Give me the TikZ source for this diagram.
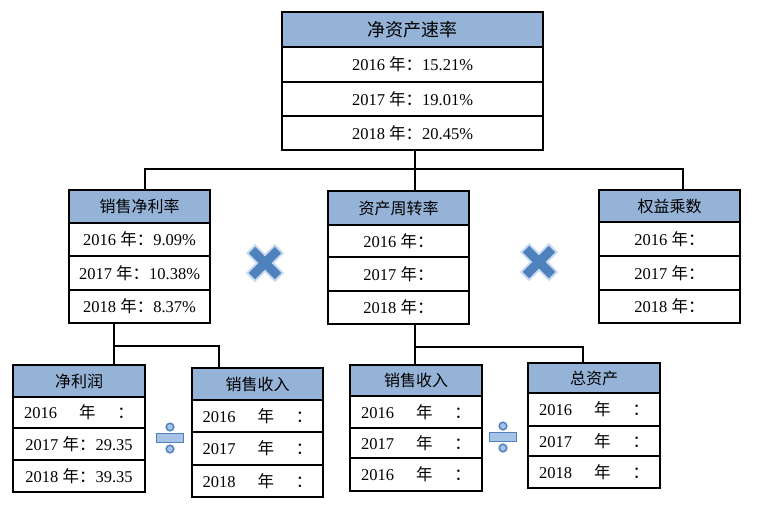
\documentclass[tikz,border=0pt]{standalone}
\usepackage{fontspec}
\setmainfont{Liberation Serif}
\newfontfamily\cjk{Noto Sans CJK SC}
\definecolor{headblue}{RGB}{149,179,215}
\definecolor{signblue}{RGB}{79,129,189}
\definecolor{signpale}{RGB}{198,217,241}
\definecolor{signlight}{RGB}{167,195,230}

\begin{document}
\begin{tikzpicture}[x=1pt,y=-1pt,
  cell/.style={draw=black,line width=1.5pt,inner sep=0pt,font=\fontsize{16.5}{16.5}\selectfont},
  head/.style={cell,fill=headblue,font=\cjk\fontsize{16}{16}\selectfont},
  spread/.style={text width=110pt},
  link/.style={line width=1.5pt}]
\fill[white] (0,0) rectangle (766,507);
\useasboundingbox (0,0) rectangle (766,507);

\node (roe) at (412.5,29.5) [head,minimum width=261,minimum height=35,font=\cjk\fontsize{18}{18}\selectfont] {净资产速率};
\node (roe1) at (412.5,64.5) [cell,minimum width=261,minimum height=35] {2016 {\cjk 年：}15.21\%};
\node (roe2) at (412.5,99) [cell,minimum width=261,minimum height=34] {2017 {\cjk 年：}19.01\%};
\node (roe3) at (412.5,133) [cell,minimum width=261,minimum height=34] {2018 {\cjk 年：}20.45\%};

\node (npm) at (139.5,206.5) [head,minimum width=141,minimum height=33] {销售净利率};
\node (npm1) at (139.5,239.5) [cell,minimum width=141,minimum height=33] {2016 {\cjk 年：}9.09\%};
\node (npm2) at (139.5,273) [cell,minimum width=141,minimum height=34] {2017 {\cjk 年：}10.38\%};
\node (npm3) at (139.5,306.5) [cell,minimum width=141,minimum height=33] {2018 {\cjk 年：}8.37\%};

\node (at) at (398.5,208) [head,minimum width=141,minimum height=34] {资产周转率};
\node (at1) at (398.5,241) [cell,minimum width=141,minimum height=32] {2016 {\cjk 年：}};
\node (at2) at (398.5,274) [cell,minimum width=141,minimum height=34] {2017 {\cjk 年：}};
\node (at3) at (398.5,307.5) [cell,minimum width=141,minimum height=33] {2018 {\cjk 年：}};

\node (em) at (669.5,206) [head,minimum width=141,minimum height=32] {权益乘数};
\node (em1) at (669.5,239) [cell,minimum width=141,minimum height=34] {2016 {\cjk 年：}};
\node (em2) at (669.5,273) [cell,minimum width=141,minimum height=34] {2017 {\cjk 年：}};
\node (em3) at (669.5,306.5) [cell,minimum width=141,minimum height=33] {2018 {\cjk 年：}};

\node (np) at (79,381) [head,minimum width=132,minimum height=32] {净利润};
\node (np1) at (79,412.5) [cell,spread,minimum width=132,minimum height=31] {2016\hfill{\cjk 年}\hfill{\cjk ：}};
\node (np2) at (79,444) [cell,minimum width=132,minimum height=32] {2017 {\cjk 年：}29.35};
\node (np3) at (79,476) [cell,minimum width=132,minimum height=32] {2018 {\cjk 年：}39.35};

\node (rev) at (257.5,384) [head,minimum width=131,minimum height=32] {销售收入};
\node (rev1) at (257.5,416) [cell,spread,minimum width=131,minimum height=32] {2016\hfill{\cjk 年}\hfill{\cjk ：}};
\node (rev2) at (257.5,448.5) [cell,spread,minimum width=131,minimum height=33] {2017\hfill{\cjk 年}\hfill{\cjk ：}};
\node (rev3) at (257.5,481) [cell,spread,minimum width=131,minimum height=32] {2018\hfill{\cjk 年}\hfill{\cjk ：}};

\node (sal) at (416,380.5) [head,minimum width=132,minimum height=31] {销售收入};
\node (sal1) at (416,412) [cell,spread,minimum width=132,minimum height=32] {2016\hfill{\cjk 年}\hfill{\cjk ：}};
\node (sal2) at (416,443) [cell,spread,minimum width=132,minimum height=30] {2017\hfill{\cjk 年}\hfill{\cjk ：}};
\node (sal3) at (416,474.5) [cell,spread,minimum width=132,minimum height=33] {2016\hfill{\cjk 年}\hfill{\cjk ：}};

\node (ta) at (594,378) [head,minimum width=132,minimum height=30] {总资产};
\node (ta1) at (594,409.5) [cell,spread,minimum width=132,minimum height=33] {2016\hfill{\cjk 年}\hfill{\cjk ：}};
\node (ta2) at (594,441) [cell,spread,minimum width=132,minimum height=30] {2017\hfill{\cjk 年}\hfill{\cjk ：}};
\node (ta3) at (594,472) [cell,spread,minimum width=132,minimum height=32] {2018\hfill{\cjk 年}\hfill{\cjk ：}};

\coordinate (busT) at (415,169);
\coordinate (busL) at (145,169);
\coordinate (busR) at (683,169);
\draw[link] (busT |- roe3.south) -- (busT |- at.north);
\draw[link] (busL |- npm.north) -- (busL) -- (busR) -- (busR |- em.north);

\coordinate (forkL) at (114,346);
\coordinate (forkLr) at (219,346);
\draw[link] (forkL |- npm3.south) -- (forkL |- np.north);
\draw[link] (forkL) -- (forkLr) -- (forkLr |- rev.north);
\coordinate (forkR) at (415,347);
\coordinate (forkRr) at (583,347);
\draw[link] (forkR |- at3.south) -- (forkR |- sal.north);
\draw[link] (forkR) -- (forkRr) -- (forkRr |- ta.north);

\foreach \cx/\cy in {265/263,539/262} {
  \begin{scope}[shift={(\cx,\cy)}]
    \draw[signpale,line width=13pt] (-14.5,-14.5) -- (14.5,14.5) (-14.5,14.5) -- (14.5,-14.5);
    \draw[signblue,line width=9pt] (-13,-13) -- (13,13) (-13,13) -- (13,-13);
  \end{scope}
}
\foreach \cx/\cy in {170/438,503/437} {
  \begin{scope}[shift={(\cx,\cy)}]
    \draw[signblue,fill=signlight,line width=1.5pt] (-13.5,-4.5) rectangle (13.5,4.5);
    \draw[signblue,fill=signlight,line width=1.5pt] (0,-11) circle[radius=3.8] (0,11) circle[radius=3.8];
  \end{scope}
}
\end{tikzpicture}
\end{document}
